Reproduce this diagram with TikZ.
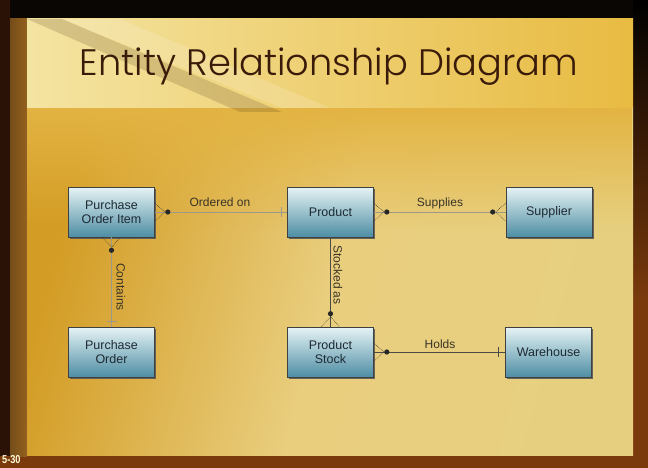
\documentclass[tikz,border=0pt]{standalone}
\usepackage{fontspec}
\setmainfont{Liberation Sans}
\newfontfamily\titlefont{Poppins Light}
\usetikzlibrary{calc,shadows,fadings}
\definecolor{framebrown}{HTML}{7A3A0C}
\definecolor{darkbrown}{HTML}{2A1206}
\definecolor{stripbrown}{HTML}{93601F}
\definecolor{bandL}{HTML}{F4E4A2}
\definecolor{bandR}{HTML}{E8BB42}
\definecolor{panelA}{HTML}{D39C24}
\definecolor{panelB}{HTML}{E9CE7E}
\definecolor{panelC}{HTML}{E6D080}
\definecolor{paneltop}{HTML}{E3B443}
\definecolor{boxtop}{HTML}{E6F3F5}
\definecolor{boxbot}{HTML}{4E8EA4}
\definecolor{boxtext}{HTML}{1E2A33}
\definecolor{titlecol}{HTML}{3A1A08}
\definecolor{lblcol}{HTML}{3A3428}
\definecolor{lightln}{HTML}{9C988C}
\definecolor{darkln}{HTML}{4A4A48}
\tikzset{
  entity/.style={draw=black!75, line width=0.6pt, top color=boxtop, bottom color=boxbot,
    minimum width=86pt, minimum height=50pt, align=center, inner sep=2pt,
    font=\fontsize{12.5}{14.5}\selectfont, text=boxtext,
    drop shadow={shadow xshift=1.6pt, shadow yshift=-1.6pt, fill=black!65, opacity=0.9}},
  lightrel/.style={draw=lightln, line width=1pt},
  darkrel/.style={draw=darkln, line width=0.8pt},
  crowfoot/.style={draw=black!80, line width=0.6pt, densely dotted},
  tickmark/.style={draw=lightln, line width=0.8pt},
  reldot/.style={fill=black!85},
  rellabel/.style={font=\fontsize{12}{14}\selectfont, text=lblcol, inner sep=1pt}
}
\begin{document}
\begin{tikzpicture}[x=1pt,y=-1pt]
\useasboundingbox (0,0) rectangle (648,468);
% frame
\fill[framebrown] (0,0) rectangle (648,468);
\shade[top color=black, bottom color=framebrown] (0,0) rectangle (648,200);
\fill[black!95!brown] (0,0) rectangle (648,19);
\fill[darkbrown] (0,0) rectangle (10,456);
\shade[left color=stripbrown!80!black, right color=stripbrown] (10,19) rectangle (27,456);
\shade[top color=black, bottom color=framebrown] (633,0) rectangle (648,300);
% panel
\shade[left color=panelA, right color=panelC, middle color=panelB, shading angle=75] (27,108) rectangle (633,455);
\fill[paneltop, path fading=south] (27,108) rectangle (633,230);
% title band
\shade[left color=bandL, right color=bandR] (27,19) rectangle (633,108);
\fill[black!60!brown, opacity=0.18] (27,19) -- (62,19) -- (282,112) -- (240,112) -- cycle;
\fill[white, opacity=0.15] (62,19) -- (120,19) -- (330,108) -- (282,108) -- cycle;
\node[font=\titlefont\fontsize{36.8}{40}\selectfont, text=titlecol] (title) at (329,67) {Entity Relationship Diagram};
\node[font=\bfseries\fontsize{11.5}{12}\selectfont, text=yellow!15, anchor=west, inner sep=0pt, xscale=0.8] (pageno) at (2,460) {5-30};
% entities
\node[entity] (poi)  at (111.5,212) {Purchase\\Order Item};
\node[entity] (prod) at (330.5,212) {Product};
\node[entity] (sup)  at (549,212) {Supplier};
\node[entity] (po)   at (111.5,352) {Purchase\\Order};
\node[entity] (ps)   at (330.5,352) {Product\\Stock};
\node[entity] (wh)   at (548.5,352) {Warehouse};
% Ordered on
\draw[lightrel] (poi.east) -- (prod.west);
\draw[crowfoot] ($(poi.east)+(0,-9)$) -- ($(poi.east)+(10,0)$) -- ($(poi.east)+(0,9)$);
\fill[reldot] ($(poi.east)+(13,0)$) circle (2.6pt);
\draw[tickmark] ($(prod.west)+(-6,-5)$) -- ($(prod.west)+(-6,5)$);
\node[rellabel] (lord) at (220,202) {Ordered on};
% Supplies
\draw[lightrel] (prod.east) -- (sup.west);
\draw[crowfoot] ($(prod.east)+(0,-9)$) -- ($(prod.east)+(10,0)$) -- ($(prod.east)+(0,9)$);
\fill[reldot] ($(prod.east)+(13,0)$) circle (2.6pt);
\draw[crowfoot] ($(sup.west)+(0,-9)$) -- ($(sup.west)+(-10,0)$) -- ($(sup.west)+(0,9)$);
\fill[reldot] ($(sup.west)+(-13,0)$) circle (2.6pt);
\node[rellabel] (lsup) at (440,203) {Supplies};
% Contains
\draw[lightrel] (poi.south) -- (po.north);
\draw[crowfoot] ($(poi.south)+(-9,0)$) -- ($(poi.south)+(0,10)$) -- ($(poi.south)+(9,0)$);
\fill[reldot] ($(poi.south)+(0,13)$) circle (2.6pt);
\draw[tickmark] ($(po.north)+(-5,-5)$) -- ($(po.north)+(5,-5)$);
\node[rellabel, rotate=-90] (lcon) at (121,287) {Contains};
% Stocked as
\draw[darkrel] (prod.south) -- (ps.north);
\draw[crowfoot] ($(ps.north)+(-9,0)$) -- ($(ps.north)+(0,-10)$) -- ($(ps.north)+(9,0)$);
\fill[reldot] ($(ps.north)+(0,-13)$) circle (2.6pt);
\node[rellabel, rotate=-90] (lsto) at (338,275) {Stocked as};
% Holds
\draw[darkrel] (ps.east) -- (wh.west);
\draw[crowfoot] ($(ps.east)+(0,-9)$) -- ($(ps.east)+(10,0)$) -- ($(ps.east)+(0,9)$);
\fill[reldot] ($(ps.east)+(13,0)$) circle (2.6pt);
\draw[darkrel] ($(wh.west)+(-7,-5)$) -- ($(wh.west)+(-7,5)$);
\node[rellabel] (lhol) at (440,344) {Holds};
\end{tikzpicture}
\end{document}
